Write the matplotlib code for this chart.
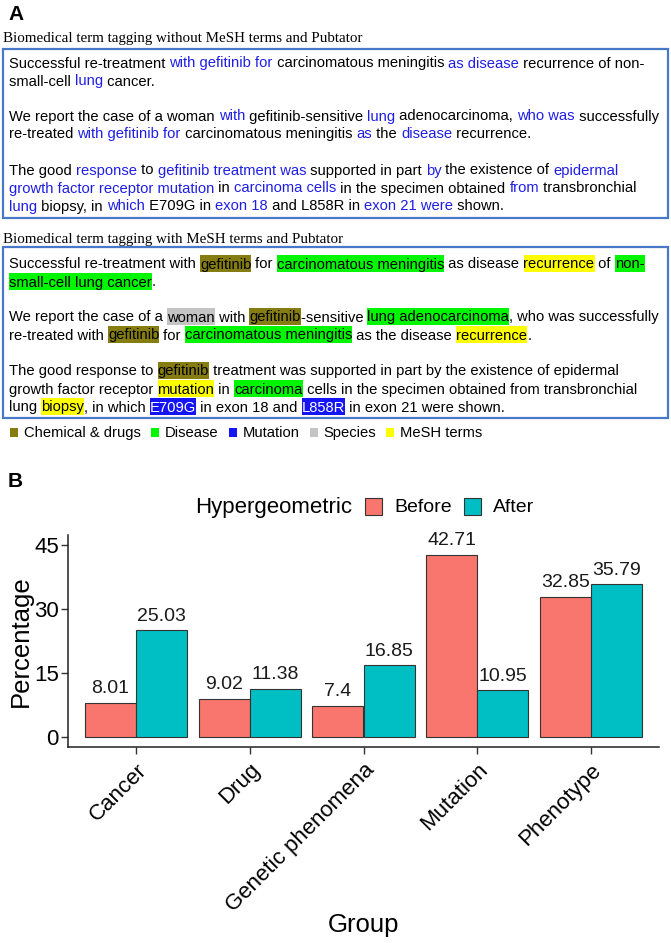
import matplotlib
matplotlib.use("Agg")
import matplotlib.pyplot as plt
from matplotlib.patches import Rectangle
import numpy as np

# ---- panel B data ----
groups = ["Cancer", "Drug", "Genetic phenomena", "Mutation", "Phenotype"]
before = [8.01, 9.02, 7.4, 42.71, 32.85]
after = [25.03, 11.38, 16.85, 10.95, 35.79]
series_names = ["Before", "After"]
yticks = [0, 15, 30, 45]

# ---- panel A text ----
title_plain = "Biomedical term tagging without MeSH terms and Pubtator"
title_mesh = "Biomedical term tagging with MeSH terms and Pubtator"

plain_lines = [
    [("Successful re-treatment ", None), ("with gefitinib for", "term"), (" carcinomatous meningitis ", None),
     ("as disease", "term"), (" recurrence of non-", None)],
    [("small-cell ", None), ("lung", "term"), (" cancer.", None)],
    [("We report the case of a woman ", None), ("with", "term"), (" gefitinib-sensitive ", None), ("lung", "term"),
     (" adenocarcinoma, ", None), ("who was", "term"), (" successfully", None)],
    [("re-treated ", None), ("with gefitinib for", "term"), (" carcinomatous meningitis ", None), ("as", "term"),
     (" the ", None), ("disease", "term"), (" recurrence.", None)],
    [("The good ", None), ("response", "term"), (" to ", None), ("gefitinib treatment was", "term"),
     (" supported in part ", None), ("by", "term"), (" the existence of ", None), ("epidermal", "term")],
    [("growth factor receptor mutation", "term"), (" in ", None), ("carcinoma cells", "term"),
     (" in the specimen obtained ", None), ("from", "term"), (" transbronchial", None)],
    [("lung", "term"), (" biopsy, in ", None), ("which", "term"), (" E709G in ", None), ("exon 18", "term"),
     (" and L858R in ", None), ("exon 21 were", "term"), (" shown.", None)],
]

mesh_lines = [
    [("Successful re-treatment with ", None), ("gefitinib", "chem"), (" for ", None),
     ("carcinomatous meningitis", "dis"), (" as disease ", None), ("recurrence", "mesh"), (" of ", None),
     ("non-", "dis")],
    [("small-cell lung cancer", "dis"), (".", None)],
    [("We report the case of a ", None), ("woman", "spec"), (" with ", None), ("gefitinib", "chem"),
     ("-sensitive ", None), ("lung adenocarcinoma", "dis"), (", who was successfully", None)],
    [("re-treated with ", None), ("gefitinib", "chem"), (" for ", None), ("carcinomatous meningitis", "dis"),
     (" as the disease ", None), ("recurrence", "mesh"), (".", None)],
    [("The good response to ", None), ("gefitinib", "chem"),
     (" treatment was supported in part by the existence of epidermal", None)],
    [("growth factor receptor ", None), ("mutation", "mesh"), (" in ", None), ("carcinoma", "dis"),
     (" cells in the specimen obtained from transbronchial", None)],
    [("lung ", None), ("biopsy", "mesh"), (", in which ", None), ("E709G", "mut"), (" in exon 18 and ", None),
     ("L858R", "mut"), (" in exon 21 were shown.", None)],
]

legend_kinds = ["chem", "dis", "mut", "spec", "mesh"]
legend_names = ["Chemical & drugs", "Disease", "Mutation", "Species", "MeSH terms"]

HL = {"chem": "#857d12", "dis": "#00f500", "mut": "#1414f5", "spec": "#c4c4c4", "mesh": "#ffff00"}
TERM_BLUE = "#1e1ee6"
BOX_BLUE = "#4a78c8"

W, H = 671, 943
SANS = "Liberation Sans"
SERIF = "Liberation Serif"
FS = 10.6

fig = plt.figure(figsize=(W / 100, H / 100), dpi=100)
renderer = fig.canvas.get_renderer()


def fx(x):
    return x / W


def fy(y):
    return 1 - y / H


def text_w(s, size, family=SANS):
    # width in pixels, spaces included
    t1 = fig.text(0, 0, "|" + s + "|", fontsize=size, family=family)
    t2 = fig.text(0, 0, "||", fontsize=size, family=family)
    w = t1.get_window_extent(renderer).width - t2.get_window_extent(renderer).width
    t1.remove()
    t2.remove()
    return w


def draw_line(segments, x, base):
    px = FS * 100 / 72
    for s, kind in segments:
        w = text_w(s, FS)
        color = "black"
        if kind == "term":
            color = TERM_BLUE
        elif kind == "mut":
            color = "white"
        if kind in HL:
            top = base - 0.93 * px
            bot = base + 0.22 * px
            fig.add_artist(Rectangle((fx(x), fy(bot)), w / W, (bot - top) / H,
                                     transform=fig.transFigure, facecolor=HL[kind],
                                     edgecolor="none", zorder=1))
        fig.text(fx(x), fy(base), s, fontsize=FS, family=SANS, color=color,
                 va="baseline", ha="left", zorder=3)
        x += w


def draw_box(y0, y1):
    fig.add_artist(Rectangle((fx(3), fy(y1)), 665 / W, (y1 - y0) / H, transform=fig.transFigure,
                             facecolor="none", edgecolor=BOX_BLUE, linewidth=1.6, zorder=2))


# panel letters
fig.text(fx(8), fy(20), "A", fontsize=15, fontweight="bold", family=SANS, va="baseline")
fig.text(fx(8), fy(487), "B", fontsize=15, fontweight="bold", family=SANS, va="baseline")

# box 1
fig.text(fx(3), fy(42), title_plain, fontsize=10.8, family=SERIF, va="baseline")
draw_box(49, 218)
line_y = [62, 80, 115, 133, 169, 187, 205]
for segs, yc in zip(plain_lines, line_y):
    draw_line(segs, 9, yc + 5.5)

# box 2
fig.text(fx(3), fy(243), title_mesh, fontsize=10.8, family=SERIF, va="baseline")
draw_box(247, 418)
for segs, yc in zip(mesh_lines, line_y):
    draw_line(segs, 9, yc + 201 + 5.5)

# highlight legend
x = 10
for kind, name in zip(legend_kinds, legend_names):
    fig.add_artist(Rectangle((fx(x), fy(437)), 8 / W, 9 / H, transform=fig.transFigure,
                             facecolor=HL[kind], edgecolor="none"))
    x += 14
    fig.text(fx(x), fy(437), name, fontsize=FS, family=SANS, va="baseline")
    x += text_w(name, FS) + 10

# ---- panel B ----
ax = fig.add_axes([fx(68), fy(747), (659 - 68) / W, (747 - 535) / H])
xpos = np.arange(len(groups))
bw = 0.45
colors = ["#F8766D", "#00BFC4"]
for i, (vals, col) in enumerate(zip([before, after], colors)):
    xs = xpos + (i - 0.5) * bw
    ax.bar(xs, vals, width=bw, color=col, edgecolor="#333333", linewidth=0.8)
    for xv, v in zip(xs, vals):
        ax.annotate(f"{v:g}", (xv, v), xytext=(0, 4), textcoords="offset points",
                    ha="center", va="bottom", fontsize=14, family=SANS, color="#1a1a1a")

ax.set_xlim(-0.6, 4.6)
ax.set_ylim(-2.3, 47.3)
ax.set_yticks(yticks)
ax.set_xticks(xpos)
ax.set_xticklabels(groups, rotation=45, ha="right", rotation_mode="anchor", fontsize=16, family=SANS)
for lab in ax.get_yticklabels():
    lab.set_fontsize(16)
    lab.set_family(SANS)
ax.tick_params(direction="out", length=5, width=1.0, color="#333333")
ax.tick_params(axis="y", pad=1.5)
ax.tick_params(axis="x", pad=4)
for side in ["top", "right"]:
    ax.spines[side].set_visible(False)
for side in ["left", "bottom"]:
    ax.spines[side].set_linewidth(1.1)
    ax.spines[side].set_color("#222222")

ax.set_xlabel("Group", fontsize=18.5, family=SANS)
ax.set_ylabel("Percentage", fontsize=18.5, family=SANS)
ax.xaxis.set_label_coords(0.5, -(913 - 747) / 212)
ax.yaxis.set_label_coords(-(68 - 33) / 591, 0.5)

# legend on top
fig.text(fx(195), fy(507), "Hypergeometric", fontsize=16, family=SANS, va="center")
key_x = [365, 464]
text_x = [394, 493]
for kx, tx, col, name in zip(key_x, text_x, colors, series_names):
    fig.add_artist(Rectangle((fx(kx), fy(515)), 17 / W, 17 / H, transform=fig.transFigure,
                             facecolor=col, edgecolor="#333333", linewidth=0.8))
    fig.text(fx(tx), fy(507), name, fontsize=14, family=SANS, va="center")

fig.savefig("out.png", dpi=100)
